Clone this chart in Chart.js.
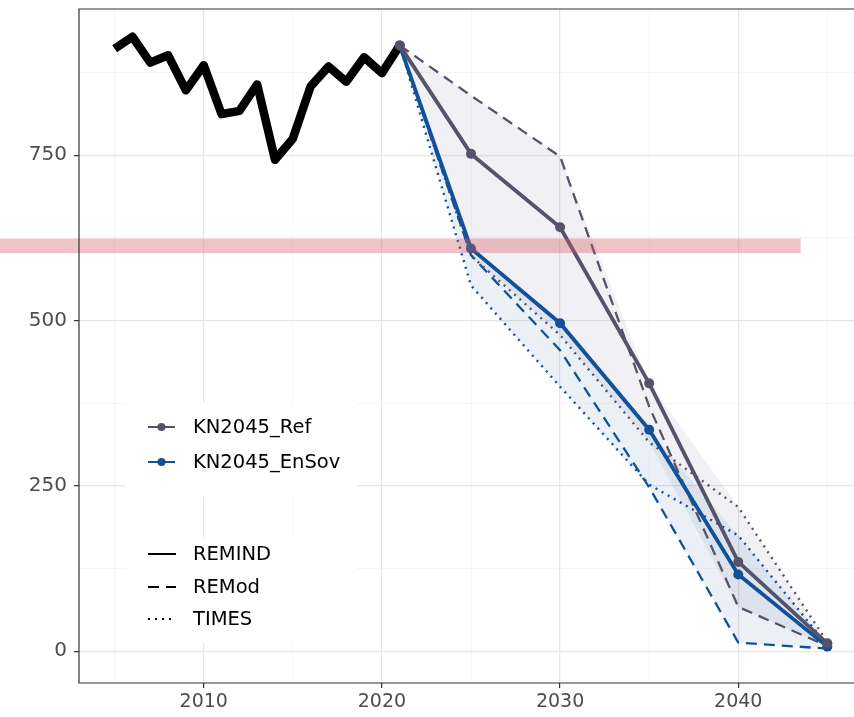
<!DOCTYPE html>
<html>
<head>
<meta charset="utf-8">
<script src="https://cdn.jsdelivr.net/npm/chart.js@4.4.0/dist/chart.umd.min.js"></script>
<style>
  html, body { margin: 0; padding: 0; background: #ffffff; overflow: hidden; width: 854px; height: 717px; }
  canvas { display: block; }
</style>
</head>
<body>
<canvas id="chart" width="880" height="717"></canvas>
<script>
// Historical emissions
const histYears  = [2005, 2006, 2007, 2008, 2009, 2010, 2011, 2012, 2013, 2014, 2015, 2016, 2017, 2018, 2019, 2020, 2021];
const histValues = [911, 929, 890, 901, 848, 886, 812, 817, 857, 743, 775, 854, 884, 861, 898, 874, 916];

// Scenario pathways by model
const scenYears     = [2021, 2025, 2030, 2035, 2040, 2045];
const refREMIND     = [916, 752, 641, 405, 135, 12];
const refREMod      = [916, 840, 748, 370, 67, 8];
const refTIMES      = [916, 598, 478, 316, 218, 14];
const ensovREMIND   = [916, 609, 496, 335, 116, 7];
const ensovREMod    = [916, 599, 455, 248, 13, 4];
const ensovTIMES    = [916, 553, 400, 252, 175, 9];

const scenarioNames = ['KN2045_Ref', 'KN2045_EnSov'];
const modelNames    = ['REMIND', 'REMod', 'TIMES'];

// Axis ticks (labelled) and target band
const xTickLabels = [2010, 2020, 2030, 2040];
const yTickLabels = [0, 250, 500, 750];
const bandValues  = [602, 624];
const bandYears   = [1998.5, 2043.5];

const REF_COLOR   = '#55536a';
const ENSOV_COLOR = '#11519a';
const FONT = 'DejaVu Sans';

const pts = (xs, ys) => xs.map((x, i) => ({ x: x, y: ys[i] }));
const lowOf  = arrs => scenYears.map((_, i) => Math.min(...arrs.map(a => a[i])));
const highOf = arrs => scenYears.map((_, i) => Math.max(...arrs.map(a => a[i])));

const refSet   = [refREMIND, refREMod, refTIMES];
const ensovSet = [ensovREMIND, ensovREMod, ensovTIMES];

const dashStyles = { REMIND: [], REMod: [11, 7], TIMES: [2, 5] };
const lineWidths = { REMIND: 3.8, REMod: 2.3, TIMES: 2.4 };

function modelLine(label, values, color, model, order) {
  const solid = model === 'REMIND';
  return {
    label: label,
    data: pts(scenYears, values),
    borderColor: color,
    borderWidth: lineWidths[model],
    borderDash: dashStyles[model],
    borderCapStyle: 'butt',
    pointRadius: solid ? 5 : 0,
    pointBackgroundColor: color,
    pointBorderWidth: 0,
    fill: false,
    tension: 0,
    order: order
  };
}

function ribbonEdge(values, order, fillTarget, fillColor) {
  return {
    label: '',
    data: pts(scenYears, values),
    borderColor: 'rgba(0,0,0,0)',
    borderWidth: 1,
    pointRadius: 0,
    fill: fillTarget === null ? false : { target: fillTarget },
    backgroundColor: fillColor || 'rgba(0,0,0,0)',
    order: order
  };
}

const datasets = [
  // 0..5: model lines
  modelLine('Ref REMIND', refREMIND, REF_COLOR, 'REMIND', 1),
  modelLine('EnSov REMIND', ensovREMIND, ENSOV_COLOR, 'REMIND', 2),
  modelLine('Ref REMod', refREMod, REF_COLOR, 'REMod', 3),
  modelLine('Ref TIMES', refTIMES, REF_COLOR, 'TIMES', 4),
  modelLine('EnSov REMod', ensovREMod, ENSOV_COLOR, 'REMod', 5),
  modelLine('EnSov TIMES', ensovTIMES, ENSOV_COLOR, 'TIMES', 6),
  // 6: history
  {
    label: 'History',
    data: pts(histYears, histValues),
    borderColor: '#000000',
    borderWidth: 8.5,
    borderJoinStyle: 'round',
    borderCapStyle: 'butt',
    pointRadius: 0,
    fill: false,
    order: 7
  },
  // 7..10: min/max ribbons per scenario
  ribbonEdge(lowOf(ensovSet), 10, null),
  ribbonEdge(highOf(ensovSet), 9, 7, 'rgba(17,81,154,0.085)'),
  ribbonEdge(lowOf(refSet), 12, null),
  ribbonEdge(highOf(refSet), 11, 9, 'rgba(78,78,130,0.08)')
];

const isMajorX = v => xTickLabels.includes(v);
const isMajorY = v => yTickLabels.includes(v);

// Minor + major grid positions
const xGrid = [];
for (let v = 2005; v <= 2045; v += 5) xGrid.push(v);
const yGrid = [];
for (let v = 0; v <= 875; v += 125) yGrid.push(v);

// Fixed axis sizes without label overhang padding
function fixX(s) { s.height = 34; s.paddingLeft = 0; s.paddingRight = 0; s.paddingTop = 0; s.paddingBottom = 0; }
function fixY(s) { s.width = 79; s.paddingLeft = 0; s.paddingRight = 0; s.paddingTop = 0; s.paddingBottom = 0; }

const panelPlugin = {
  id: 'panel',
  afterDatasetsDraw(chart) {
    const { ctx, chartArea, scales } = chart;
    const xs = scales.x, ys = scales.y;

    // legend boxes
    ctx.save();
    ctx.fillStyle = '#ffffff';
    ctx.fillRect(126, 403, 231, 94);
    ctx.fillRect(126, 537, 231, 106);

    ctx.font = '19.5px "' + FONT + '"';
    ctx.textBaseline = 'middle';
    ctx.textAlign = 'left';

    const scenColors = [REF_COLOR, ENSOV_COLOR];
    const scenY = [427, 462];
    scenarioNames.forEach((name, i) => {
      ctx.strokeStyle = scenColors[i];
      ctx.lineWidth = 2;
      ctx.setLineDash([]);
      ctx.beginPath();
      ctx.moveTo(148, scenY[i]);
      ctx.lineTo(175, scenY[i]);
      ctx.stroke();
      ctx.fillStyle = scenColors[i];
      ctx.beginPath();
      ctx.arc(161.5, scenY[i], 4, 0, Math.PI * 2);
      ctx.fill();
      ctx.fillStyle = '#000000';
      ctx.fillText(name, 193, scenY[i] + 1);
    });

    const modelY = [554, 587, 619];
    modelNames.forEach((name, i) => {
      ctx.strokeStyle = '#000000';
      ctx.lineWidth = 2;
      ctx.setLineDash(dashStyles[name]);
      ctx.beginPath();
      ctx.moveTo(148, modelY[i]);
      ctx.lineTo(176, modelY[i]);
      ctx.stroke();
      ctx.setLineDash([]);
      ctx.fillStyle = '#000000';
      ctx.fillText(name, 193, modelY[i] + 1);
    });

    // target band
    const bx1 = xs.getPixelForValue(bandYears[0]);
    const bx2 = xs.getPixelForValue(bandYears[1]);
    const by1 = ys.getPixelForValue(bandValues[1]);
    const by2 = ys.getPixelForValue(bandValues[0]);
    ctx.fillStyle = 'rgba(214,88,96,0.36)';
    ctx.fillRect(bx1, by1, bx2 - bx1, by2 - by1);

    // panel border (right edge lies outside the visible page)
    ctx.strokeStyle = '#333333';
    ctx.lineWidth = 1.2;
    ctx.beginPath();
    ctx.moveTo(chartArea.right, chartArea.top);
    ctx.lineTo(chartArea.left, chartArea.top);
    ctx.lineTo(chartArea.left, chartArea.bottom);
    ctx.lineTo(chartArea.right, chartArea.bottom);
    ctx.stroke();
    ctx.restore();
  }
};

new Chart(document.getElementById('chart'), {
  type: 'line',
  data: { datasets: datasets },
  plugins: [panelPlugin],
  options: {
    responsive: false,
    animation: false,
    events: [],
    layout: { autoPadding: false, padding: { left: 0, top: 9, right: 17, bottom: 0 } },
    plugins: {
      legend: { display: false },
      tooltip: { enabled: false },
      filler: { propagate: false }
    },
    scales: {
      x: {
        type: 'linear',
        min: 2003,
        max: 2047,
        afterBuildTicks: s => { s.ticks = xGrid.map(v => ({ value: v })); },
        afterFit: fixX,
        border: { display: false },
        grid: {
          color: c => (c.tick && isMajorX(c.tick.value)) ? '#e6e6e6' : '#f2f2f2',
          lineWidth: c => (c.tick && isMajorX(c.tick.value)) ? 1.2 : 0.7,
          tickColor: c => (c.tick && isMajorX(c.tick.value)) ? '#333333' : 'rgba(0,0,0,0)',
          tickLength: 5,
          drawTicks: true
        },
        ticks: {
          autoSkip: false,
          maxRotation: 0,
          padding: 3,
          color: '#4d4d4d',
          font: { family: FONT, size: 19 },
          callback: v => isMajorX(v) ? String(v) : ''
        }
      },
      y: {
        type: 'linear',
        min: -48,
        max: 971,
        afterBuildTicks: s => { s.ticks = yGrid.map(v => ({ value: v })); },
        afterFit: fixY,
        border: { display: false },
        grid: {
          color: c => (c.tick && isMajorY(c.tick.value)) ? '#e6e6e6' : '#f2f2f2',
          lineWidth: c => (c.tick && isMajorY(c.tick.value)) ? 1.2 : 0.7,
          tickColor: c => (c.tick && isMajorY(c.tick.value)) ? '#333333' : 'rgba(0,0,0,0)',
          tickLength: 5,
          drawTicks: true
        },
        ticks: {
          autoSkip: false,
          padding: 7,
          color: '#4d4d4d',
          font: { family: FONT, size: 20 },
          callback: v => isMajorY(v) ? String(v) : ''
        }
      }
    }
  }
});
</script>
</body>
</html>
